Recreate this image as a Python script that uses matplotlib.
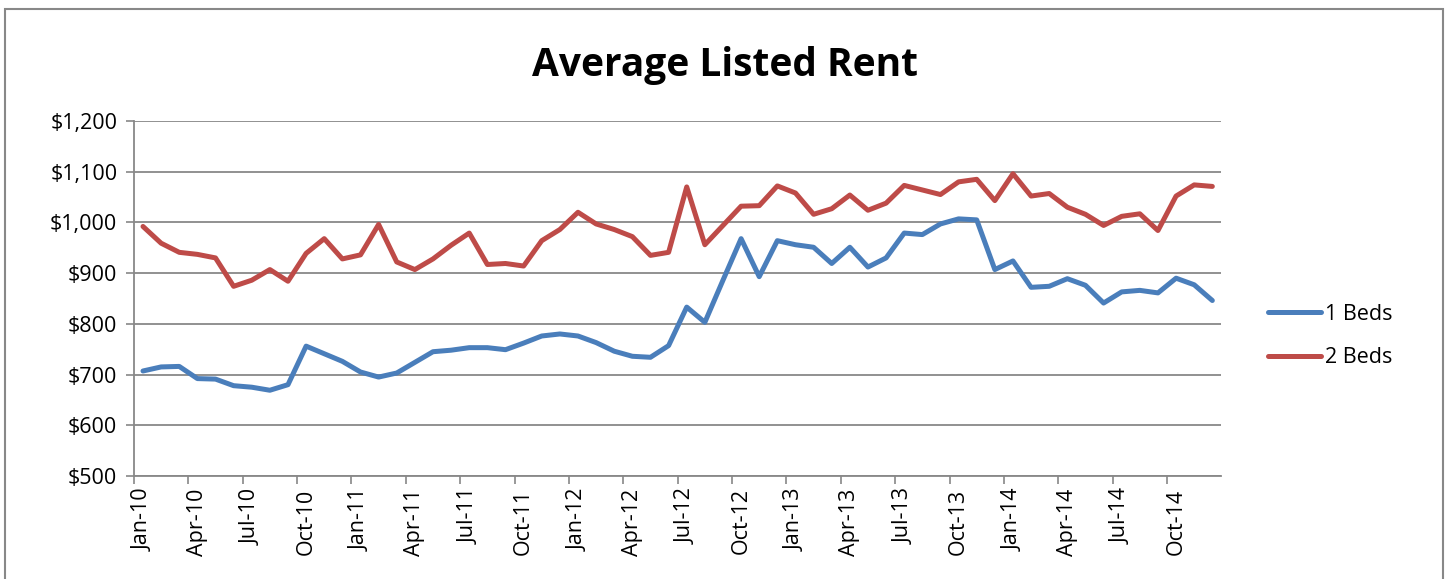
import matplotlib
matplotlib.use('Agg')
import matplotlib.pyplot as plt
from matplotlib.patches import Rectangle
from matplotlib.ticker import FuncFormatter

# monthly average listed rent, Jan-10 .. Dec-14
months = ['Jan', 'Feb', 'Mar', 'Apr', 'May', 'Jun',
          'Jul', 'Aug', 'Sep', 'Oct', 'Nov', 'Dec']
years = ['10', '11', '12', '13', '14']
tick_labels = ['{}-{}'.format(m, y) for y in years for m in months][::3]

beds_1 = [707, 715, 716, 692, 691, 678, 675, 669, 680, 756, 741, 726,
          705, 695, 703, 724, 745, 748, 753, 753, 749, 762, 776, 780,
          776, 763, 746, 736, 734, 757, 833, 803, 886, 968, 893, 964,
          956, 951, 919, 951, 912, 930, 979, 976, 997, 1007, 1005, 907,
          924, 872, 874, 889, 876, 841, 863, 866, 861, 890, 877, 846]
beds_2 = [992, 959, 941, 937, 930, 874, 886, 907, 884, 939, 968, 928,
          936, 996, 922, 907, 928, 955, 979, 917, 919, 914, 964, 986,
          1020, 997, 986, 972, 935, 941, 1070, 956, 994, 1032, 1033, 1072,
          1058, 1016, 1027, 1054, 1024, 1038, 1073, 1064, 1055, 1080, 1085, 1043,
          1096, 1052, 1057, 1030, 1016, 994, 1012, 1017, 984, 1052, 1074, 1071]

plt.rcParams['font.family'] = ['Open Sans', 'DejaVu Sans']

fig = plt.figure(figsize=(14.48, 5.79), dpi=100)
ax = fig.add_axes([0.0925, 0.178, 0.751, 0.613])

# each month sits in the middle of its slot
x = [i + 0.5 for i in range(len(beds_1))]
ax.plot(x, beds_1, color='#4A7EBB', lw=3.6, label='1 Beds', solid_capstyle='round')
ax.plot(x, beds_2, color='#BE4B48', lw=3.6, label='2 Beds', solid_capstyle='round')

ax.set_xlim(0, len(beds_1))
ax.set_ylim(500, 1200)
ax.set_yticks(range(500, 1201, 100))
ax.yaxis.set_major_formatter(FuncFormatter(lambda v, p: '${:,.0f}'.format(v)))

# tick marks on slot edges, labels on the month centres
ax.set_xticks(range(0, len(beds_1), 3))
ax.set_xticklabels([])
ax.set_xticks([i + 0.5 for i in range(0, len(beds_1), 3)], minor=True)
ax.set_xticklabels(tick_labels, minor=True, rotation=90)
ax.tick_params(axis='both', labelsize=15.5, color='#888888', length=6, width=1.2)
ax.tick_params(axis='x', which='minor', length=0, labelsize=15.5, pad=9)
ax.tick_params(axis='y', pad=6)

ax.grid(axis='y', color='#888888', lw=1.3)
ax.set_axisbelow(True)
for s in ['top', 'right']:
    ax.spines[s].set_visible(False)
for s in ['left', 'bottom']:
    ax.spines[s].set_color('#888888')
    ax.spines[s].set_linewidth(1.3)

fig.text(0.501, 0.887, 'Average Listed Rent', ha='center', va='center',
         fontsize=28, fontweight='bold')

fig.legend(loc='center left', bbox_to_anchor=(0.862, 0.42), frameon=False,
           fontsize=15.5, handlelength=2.5, handletextpad=0.15, labelspacing=1.05)

fig.patches.append(Rectangle((5 / 1448, -0.02), 1438 / 1448, 0.984 + 0.02,
                             transform=fig.transFigure, fill=False,
                             edgecolor='#888888', lw=1.5))

plt.savefig('out.png', dpi=100)
